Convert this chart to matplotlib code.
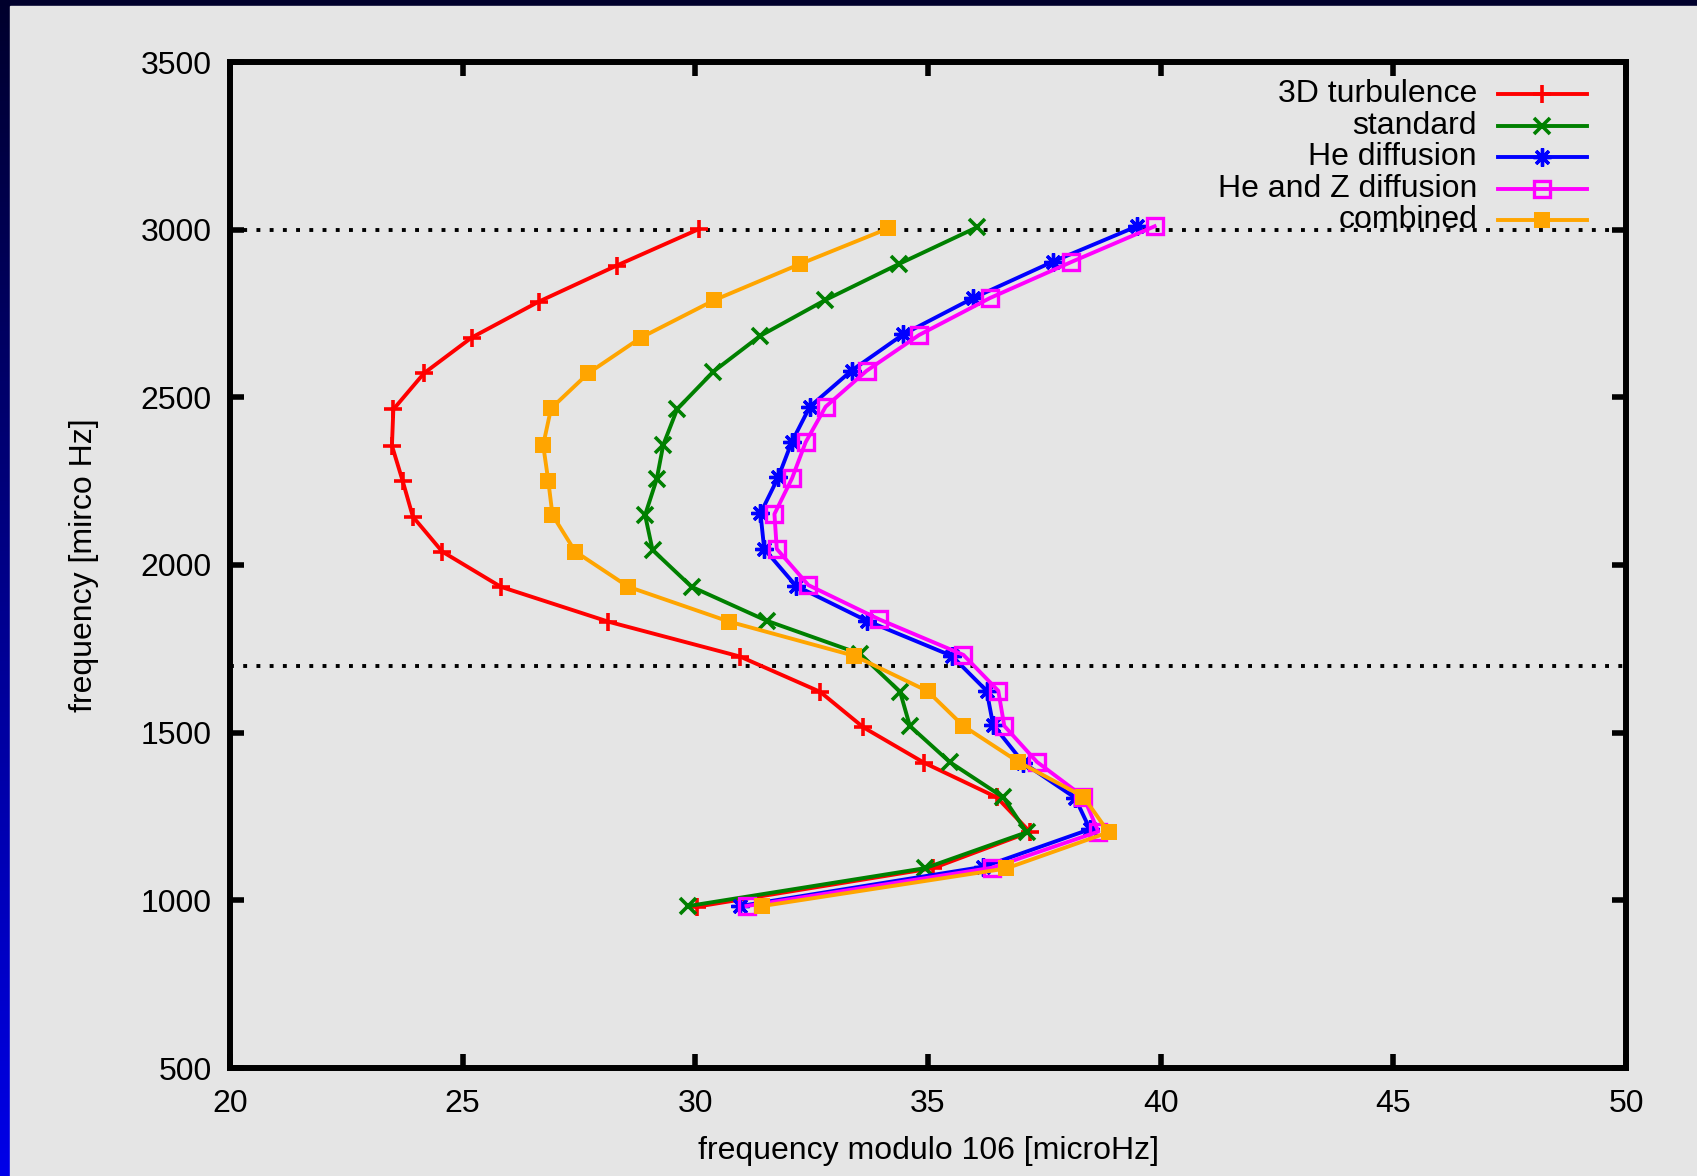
import numpy as np
import matplotlib
matplotlib.use("Agg")
import matplotlib.pyplot as plt
from matplotlib.colors import LinearSegmentedColormap
from matplotlib.patches import Rectangle
from matplotlib.lines import Line2D

plt.rcParams['font.family'] = ['Liberation Sans', 'DejaVu Sans']

# %% data (frequency modulo 106, frequency) per model
turb_x = [30.03, 35.11, 37.19, 36.48, 34.92, 33.61, 32.68, 30.96, 28.13, 25.82,
          24.56, 23.93, 23.71, 23.48, 23.51, 24.17, 25.19, 26.63, 28.31, 30.08]
turb_y = [981, 1096, 1204, 1307, 1410, 1516, 1622, 1727, 1831, 1935,
          2040, 2144, 2251, 2356, 2464, 2572, 2678, 2785, 2893, 3002]

std_x = [29.85, 34.94, 37.12, 36.62, 35.47, 34.61, 34.40, 33.54, 31.53, 29.92,
         29.08, 28.92, 29.17, 29.31, 29.61, 30.39, 31.39, 32.79, 34.38, 36.05]
std_y = [983, 1096, 1203, 1307, 1412, 1520, 1622, 1735, 1834, 1935,
         2045, 2149, 2256, 2358, 2465, 2577, 2683, 2790, 2898, 3007]

he_x = [30.96, 36.19, 38.48, 38.16, 37.05, 36.40, 36.26, 35.51, 33.68, 32.16,
        31.48, 31.40, 31.78, 32.07, 32.46, 33.36, 34.47, 35.97, 37.69, 39.49]
he_y = [983, 1100, 1212, 1306, 1410, 1523, 1625, 1729, 1834, 1938,
        2048, 2154, 2261, 2366, 2472, 2580, 2688, 2796, 2905, 3010]

hez_x = [31.10, 36.37, 38.66, 38.34, 37.34, 36.64, 36.51, 35.76, 33.95, 32.43,
         31.75, 31.70, 32.08, 32.37, 32.80, 33.68, 34.81, 36.33, 38.07, 39.87]
hez_y = [983, 1097, 1205, 1309, 1413, 1520, 1625, 1732, 1838, 1940,
         2048, 2152, 2259, 2366, 2472, 2579, 2686, 2796, 2903, 3010]

comb_x = [31.44, 36.68, 38.88, 38.34, 36.94, 35.76, 34.99, 33.42, 30.73, 28.56,
          27.42, 26.93, 26.84, 26.73, 26.90, 27.70, 28.83, 30.41, 32.24, 34.15]
comb_y = [983, 1095, 1203, 1309, 1413, 1520, 1624, 1729, 1831, 1935,
          2040, 2149, 2251, 2358, 2467, 2572, 2678, 2790, 2897, 3004]

hlines = [3000, 1700]
xticks = [20, 25, 30, 35, 40, 45, 50]
yticks = [500, 1000, 1500, 2000, 2500, 3000, 3500]

# %% figure with slide-like background
W, H = 1697, 1176
fig = plt.figure(figsize=(W / 100, H / 100), dpi=100)

bg = fig.add_axes([0, 0, 1, 1])
bg.set_zorder(-2)
cmap = LinearSegmentedColormap.from_list('slide', ['#00002c', '#0000e8'])
grad = np.linspace(0, 1, 256).reshape(-1, 1)
bg.imshow(grad, aspect='auto', cmap=cmap, extent=[0, W, 0, H], origin='upper')
bg.add_patch(Rectangle((10, 0), W, H - 6, color='#e5e5e5'))
bg.set_xlim(0, W)
bg.set_ylim(0, H)
bg.axis('off')

ax = fig.add_axes([230 / W, 1 - 1068 / H, 1396 / W, 1006 / H])
ax.set_facecolor('none')

fs = 23
lw = 2.8
lines = []
lines += ax.plot(turb_x, turb_y, color='#ff0000', lw=lw, marker='+', ms=13,
                 mew=2.6, label='3D turbulence')
lines += ax.plot(std_x, std_y, color='#008000', lw=lw, marker='x', ms=11,
                 mew=2.6, label='standard')
lines += ax.plot(he_x, he_y, color='#0000ff', lw=lw, marker=(8, 2, 0), ms=13,
                 mew=2.4, label='He diffusion')
lines += ax.plot(hez_x, hez_y, color='#ff00ff', lw=lw, marker='s', ms=12,
                 mew=2.4, mfc='none', label='He and Z diffusion')
lines += ax.plot(comb_x, comb_y, color='#ffa500', lw=lw, marker='s', ms=12,
                 mew=0, label='combined')

for h in hlines:
    ax.axhline(h, color='black', lw=2.8, linestyle=(0, (1, 2.4)), zorder=1)

ax.set_xlim(20, 50)
ax.set_ylim(500, 3500)
ax.set_xticks(xticks)
ax.set_yticks(yticks)
ax.tick_params(direction='in', length=10, width=4, labelsize=fs, top=True,
               right=True)
ax.tick_params(axis='x', pad=15)
ax.tick_params(axis='y', pad=13)
for s in ax.spines.values():
    s.set_linewidth(4.3)

ax.set_xlabel('frequency modulo 106 [microHz]', fontsize=fs, labelpad=12)
ax.set_ylabel('frequency [mirco Hz]', fontsize=fs, labelpad=30)

# gnuplot style key: right-aligned text, sample line on the right
for i, ln in enumerate(lines):
    yk = 0.968 - i * 0.0313
    ax.text(0.8933, yk, ln.get_label(), transform=ax.transAxes, ha='right',
            va='center', fontsize=fs)
    ax.add_line(Line2D([0.9083, 0.9721], [yk, yk], transform=ax.transAxes,
                       color=ln.get_color(), lw=lw, clip_on=False))
    ax.add_line(Line2D([0.9398], [yk], transform=ax.transAxes, ls='none',
                       color=ln.get_color(), marker=ln.get_marker(),
                       ms=ln.get_markersize(), mew=ln.get_markeredgewidth(),
                       mfc=ln.get_markerfacecolor(), clip_on=False))

plt.savefig('out.png', dpi=100)
